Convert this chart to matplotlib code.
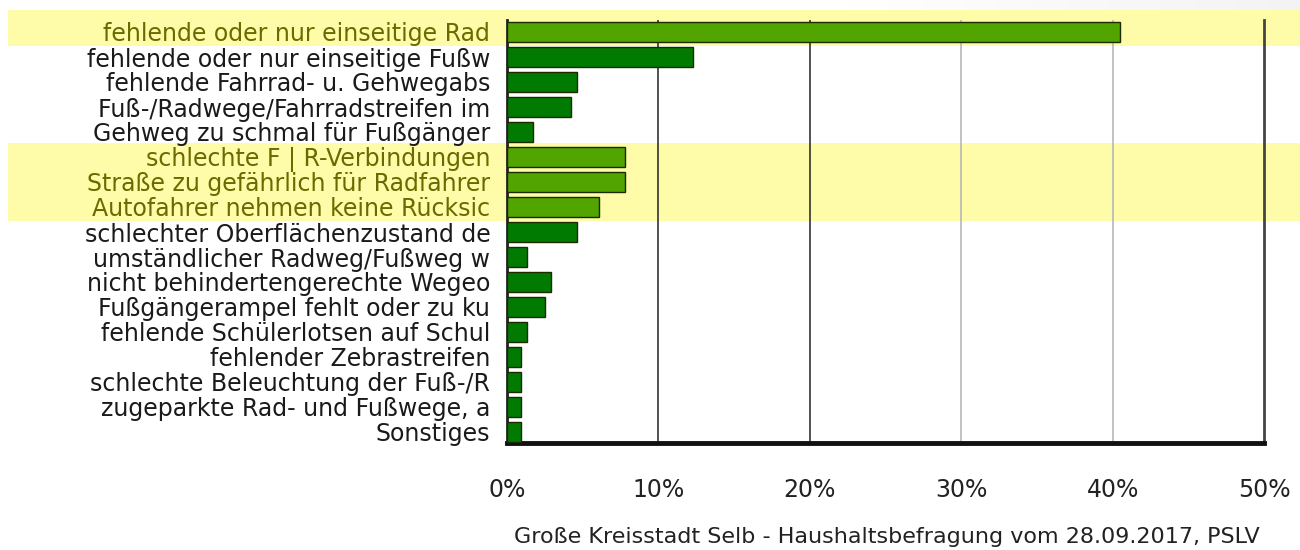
import numpy as np
import matplotlib.pyplot as plt
from matplotlib.patches import Rectangle
from matplotlib.transforms import blended_transform_factory

labels = ['fehlende oder nur einseitige Rad',
          'fehlende oder nur einseitige Fußw',
          'fehlende Fahrrad- u. Gehwegabs',
          'Fuß-/Radwege/Fahrradstreifen im',
          'Gehweg zu schmal für Fußgänger',
          'schlechte F | R-Verbindungen',
          'Straße zu gefährlich für Radfahrer',
          'Autofahrer nehmen keine Rücksic',
          'schlechter Oberflächenzustand de',
          'umständlicher Radweg/Fußweg w',
          'nicht behindertengerechte Wegeo',
          'Fußgängerampel fehlt oder zu ku',
          'fehlende Schülerlotsen auf Schul',
          'fehlender Zebrastreifen',
          'schlechte Beleuchtung der Fuß-/R',
          'zugeparkte Rad- und Fußwege, a',
          'Sonstiges']
values = [40.5, 12.3, 4.6, 4.2, 1.7, 7.8, 7.8, 6.1, 4.6, 1.3, 2.9, 2.5, 1.3, 0.9, 0.9, 0.9, 0.9]
highlight = [0, 5, 6, 7]
xticks = [0, 10, 20, 30, 40, 50]
footer = 'Große Kreisstadt Selb - Haushaltsbefragung vom 28.09.2017, PSLV'

fig = plt.figure(figsize=(13, 5.5), dpi=100)

# faint grey shadow along the top right edge
sh = fig.add_axes([830/1300, 1-10/550, 470/1300, 10/550])
sh.imshow(np.linspace(0, 1, 100)[None, :], cmap='Greys', vmin=0, vmax=10,
          aspect='auto', extent=(0, 1, 0, 1))
sh.axis('off')

ax = fig.add_axes([507/1300, 1-443/550, (1264-507)/1300, (443-20)/550])
ax.set_facecolor('none')

y = np.arange(len(labels))
colors = ['#52a500' if i in highlight else '#007a00' for i in y]
ax.barh(y, values, height=0.8, color=colors, edgecolor='#1c2a00', linewidth=1, zorder=3)

# yellow highlight bands across the whole figure width
trans = blended_transform_factory(fig.transFigure, ax.transData)
ax.add_patch(Rectangle((8/1300, -0.88), 1, 1.44, transform=trans, color='#fefca8',
                       zorder=0, clip_on=False, lw=0))
ax.add_patch(Rectangle((8/1300, 4.44), 1, 3.12, transform=trans, color='#fefca8',
                       zorder=0, clip_on=False, lw=0))

for x, c in zip([10, 20, 30, 40], ['#333333', '#333333', '#b8b8b8', '#b8b8b8']):
    ax.axvline(x, color=c, lw=1.2, zorder=1)

ax.set_xlim(0, 50)
ax.set_ylim(16.44, -0.48)
ax.set_xticks(xticks)
ax.set_xticklabels([f'{t}%' for t in xticks], fontsize=17, color='#222222')
ax.set_yticks(y)
ax.set_yticklabels(labels, fontsize=17)
for i, t in enumerate(ax.get_yticklabels()):
    t.set_color('#6a6a00' if i in highlight else '#1a1a1a')
ax.tick_params(axis='both', length=0)
ax.tick_params(axis='x', pad=25)
ax.tick_params(axis='y', pad=12)

ax.spines['top'].set_visible(False)
ax.spines['left'].set_color('#222222')
ax.spines['right'].set_color('#444444')
ax.spines['right'].set_linewidth(2)
ax.spines['left'].set_linewidth(2)
ax.spines['bottom'].set_linewidth(3.5)
ax.spines['bottom'].set_color('#111111')

fig.text(887/1300, 1-537/550, footer, ha='center', va='center', fontsize=16, color='#222222')

fig.savefig('out.png', dpi=100)
